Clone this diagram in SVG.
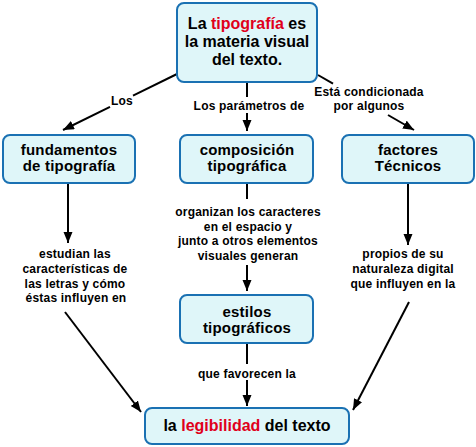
<svg xmlns="http://www.w3.org/2000/svg" width="476" height="447" viewBox="0 0 476 447">
<defs>
<marker id="ah" markerUnits="userSpaceOnUse" markerWidth="12" markerHeight="10" refX="11" refY="4.5" orient="auto">
<path d="M0,0 L11,4.5 L0,9 z" fill="#000"/>
</marker>
<style>
.box{fill:#dff6f9;stroke:#1a71b3;stroke-width:2}
.nt{font-family:"Liberation Sans",Arial,sans-serif;font-weight:bold;font-size:15px;letter-spacing:0.2px;fill:#000;text-anchor:middle}
.big{font-size:16px;letter-spacing:0px}
.lb{font-family:"Liberation Sans",Arial,sans-serif;font-weight:bold;font-size:12px;letter-spacing:0.2px;fill:#000;text-anchor:middle}
.red{fill:#e0001b}
.c{stroke:#000;stroke-width:2;fill:none}
</style>
</defs>
<rect width="476" height="447" fill="#fff"/>
<g id="connectors">
<line class="c" x1="177" y1="74" x2="133" y2="95.6"/>
<line class="c" x1="110" y1="106.9" x2="63" y2="130" marker-end="url(#ah)"/>
<line class="c" x1="247" y1="82" x2="247" y2="97"/>
<line class="c" x1="247" y1="113" x2="247" y2="131" marker-end="url(#ah)"/>
<line class="c" x1="318" y1="75" x2="333" y2="83.6"/>
<line class="c" x1="388" y1="115" x2="414" y2="130" marker-end="url(#ah)"/>
<line class="c" x1="68" y1="183" x2="68" y2="243" marker-end="url(#ah)"/>
<line class="c" x1="65" y1="312" x2="141" y2="412" marker-end="url(#ah)"/>
<line class="c" x1="247" y1="183" x2="247" y2="199"/>
<line class="c" x1="247" y1="265" x2="247" y2="291" marker-end="url(#ah)"/>
<line class="c" x1="408" y1="183" x2="408" y2="245" marker-end="url(#ah)"/>
<line class="c" x1="409" y1="302" x2="353" y2="410" marker-end="url(#ah)"/>
<line class="c" x1="247" y1="343" x2="247" y2="364"/>
<line class="c" x1="247" y1="380" x2="247" y2="406" marker-end="url(#ah)"/>
</g>
<g id="labels">
<text class="lb" x="122" y="105">Los</text>
<text class="lb" x="249" y="110">Los parámetros de</text>
<text class="lb" x="369" y="96">Está condicionada</text>
<text class="lb" x="369" y="110">por algunos</text>
<text class="lb" x="75" y="258">estudian las</text>
<text class="lb" x="75" y="273">características de</text>
<text class="lb" x="75" y="288">las letras y cómo</text>
<text class="lb" x="76" y="302">éstas influyen en</text>
<text class="lb" x="248" y="216">organizan los caracteres</text>
<text class="lb" x="248" y="231">en el espacio y</text>
<text class="lb" x="248" y="245">junto a otros elementos</text>
<text class="lb" x="248" y="260">visuales generan</text>
<text class="lb" x="403" y="258">propios de su</text>
<text class="lb" x="403" y="273">naturaleza digital</text>
<text class="lb" x="403" y="288">que influyen en la</text>
<text class="lb" x="247" y="378">que favorecen la</text>
</g>
<g id="node-top">
<rect class="box" x="177" y="3" width="140" height="79" rx="7"/>
<text class="nt big" x="247" y="29">La <tspan class="red">tipografía</tspan> es</text>
<text class="nt big" x="247" y="47">la materia visual</text>
<text class="nt big" x="247" y="65">del texto.</text>
</g>
<g id="node-fundamentos">
<rect class="box" x="3" y="135" width="132" height="48" rx="7"/>
<text class="nt" x="69" y="155">fundamentos</text>
<text class="nt" x="69" y="171">de tipografía</text>
</g>
<g id="node-composicion">
<rect class="box" x="180" y="135" width="133" height="48" rx="7"/>
<text class="nt" x="247" y="155">composición</text>
<text class="nt" x="247" y="171">tipográfica</text>
</g>
<g id="node-factores">
<rect class="box" x="342" y="135" width="132" height="48" rx="7"/>
<text class="nt" x="408" y="155">factores</text>
<text class="nt" x="408" y="171">Técnicos</text>
</g>
<g id="node-estilos">
<rect class="box" x="180" y="295" width="133" height="48" rx="7"/>
<text class="nt" x="247" y="317">estilos</text>
<text class="nt" x="247" y="333">tipográficos</text>
</g>
<g id="node-legibilidad">
<rect class="box" x="145" y="408" width="204" height="36" rx="7"/>
<text class="nt big" x="247" y="431">la <tspan class="red">legibilidad</tspan> del texto</text>
</g>
</svg>
